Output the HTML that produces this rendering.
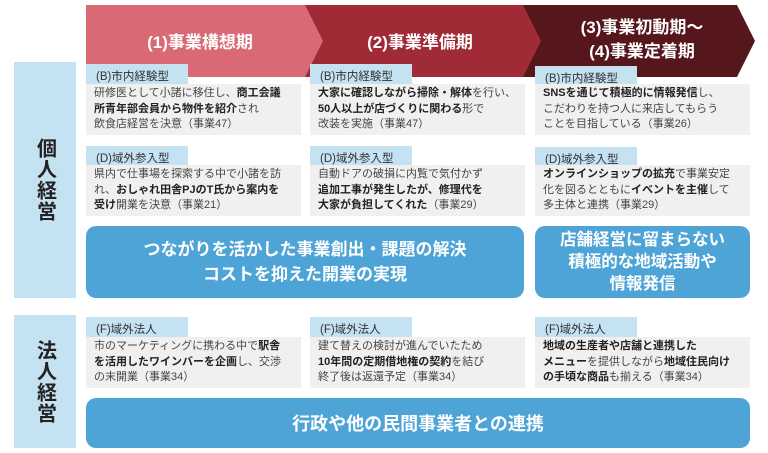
<!DOCTYPE html>
<html><head><meta charset="utf-8"><style>
*{margin:0;padding:0;box-sizing:border-box}
body{width:768px;height:453px;background:#fff;position:relative;overflow:hidden;font-family:"Liberation Sans","Noto Sans CJK JP",sans-serif;color:#333}
.abs{position:absolute}
.side{position:absolute;left:14px;width:62px;background:#c5e2f2;display:flex;align-items:center;justify-content:center}
.side span{writing-mode:vertical-rl;font-weight:bold;font-size:20px;color:#222;letter-spacing:1px}
.tag{position:absolute;width:102px;height:21px;background:#c5e2f2;font-size:11.5px;padding:4px 0 0 10px;color:#333}
.card{position:absolute;width:215px;height:51px;background:#f0f0f0;font-size:11px;line-height:15.5px;padding:2px 0 0 8px;color:#444;white-space:nowrap}
.card b{color:#222}
.blue{position:absolute;background:#4ea4d6;border-radius:10px;color:#fff;font-weight:bold;display:flex;align-items:center;justify-content:center;text-align:center}
</style></head><body>
<svg class="abs" style="left:0;top:0" width="768" height="80">
<polygon points="86,5 308,5 326,41 308,77 86,77" fill="#d96a75"/>
<polygon points="305,5 528,5 546,41 528,77 305,77 323,41" fill="#a02a36"/>
<polygon points="523,5 737,5 755,41 737,77 523,77 541,41" fill="#55161c"/>
<g fill="#fff" font-weight="bold" font-family="Liberation Sans,Noto Sans CJK JP,sans-serif" font-size="17" text-anchor="middle">
<text x="200" y="48">(1)事業構想期</text>
<text x="420" y="48">(2)事業準備期</text>
<text x="642" y="33">(3)事業初動期～</text>
<text x="642" y="57">(4)事業定着期</text>
</g></svg>

<div class="side" style="top:62px;height:236px"><span>個人経営</span></div>
<div class="side" style="top:315px;height:133px"><span>法人経営</span></div>

<div class="tag" style="left:86px;top:64px">(B)市内経験型</div>
<div class="tag" style="left:310px;top:64px">(B)市内経験型</div>
<div class="tag" style="left:535px;top:66px">(B)市内経験型</div>
<div class="card" style="left:86px;top:84px">研修医として小諸に移住し、<b>商工会議<br>所青年部会員から物件を紹介</b>され<br>飲食店経営を決意（事業47）</div>
<div class="card" style="left:310px;top:84px"><b>大家に確認しながら掃除・解体</b>を行い、<br><b>50人以上が店づくりに関わる</b>形で<br>改装を実施（事業47）</div>
<div class="card" style="left:535px;top:84px"><b>SNSを通じて積極的に情報発信</b>し、<br>こだわりを持つ人に来店してもらう<br>ことを目指している（事業26）</div>

<div class="tag" style="left:86px;top:146px">(D)域外参入型</div>
<div class="tag" style="left:310px;top:146px">(D)域外参入型</div>
<div class="tag" style="left:535px;top:147px">(D)域外参入型</div>
<div class="card" style="left:86px;top:165px">県内で仕事場を探索する中で小諸を訪<br>れ、<b>おしゃれ田舎PJのT氏から案内を<br>受け</b>開業を決意（事業21）</div>
<div class="card" style="left:310px;top:165px">自動ドアの破損に内覧で気付かず<br><b>追加工事が発生したが、修理代を<br>大家が負担してくれた</b>（事業29）</div>
<div class="card" style="left:535px;top:165px"><b>オンラインショップの拡充</b>で事業安定<br>化を図るとともに<b>イベントを主催</b>して<br>多主体と連携（事業29）</div>

<div class="blue" style="left:86px;top:226px;width:438px;height:72px;font-size:17px;line-height:25px">つながりを活かした事業創出・課題の解決<br>コストを抑えた開業の実現</div>
<div class="blue" style="left:535px;top:226px;width:215px;height:72px;font-size:16.5px;line-height:22px">店舗経営に留まらない<br>積極的な地域活動や<br>情報発信</div>

<div class="tag" style="left:86px;top:317px">(F)域外法人</div>
<div class="tag" style="left:310px;top:317px">(F)域外法人</div>
<div class="tag" style="left:535px;top:317px">(F)域外法人</div>
<div class="card" style="left:86px;top:337px">市のマーケティングに携わる中で<b>駅舎<br>を活用したワインバーを企画</b>し、交渉<br>の末開業（事業34）</div>
<div class="card" style="left:310px;top:337px">建て替えの検討が進んでいたため<br><b>10年間の定期借地権の契約</b>を結び<br>終了後は返還予定（事業34）</div>
<div class="card" style="left:535px;top:337px"><b>地域の生産者や店舗と連携した<br>メニュー</b>を提供しながら<b>地域住民向け<br>の手頃な商品</b>も揃える（事業34）</div>

<div class="blue" style="left:86px;top:398px;width:664px;height:50px;font-size:18px">行政や他の民間事業者との連携</div>
</body></html>
